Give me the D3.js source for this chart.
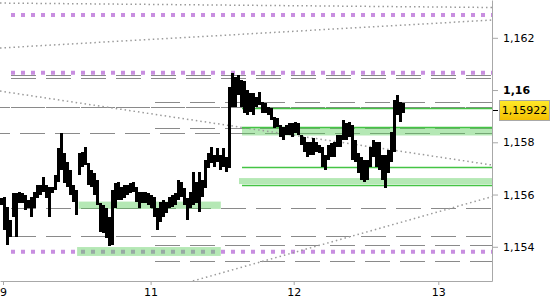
<!DOCTYPE html>
<html>
<head>
<meta charset="utf-8">
<script src="https://cdn.jsdelivr.net/npm/d3@7"></script>
<style>
  body { margin: 0; background: #fff; }
  svg { display: block; font-family: "DejaVu Sans", sans-serif; }
</style>
</head>
<body>
<svg id="chart" width="550" height="300"></svg>
<script>
// bar index 0..134, one bar per column
const barHigh = [1.15587,1.15591,1.15552,1.15503,1.15606,1.15606,1.15610,1.15606,1.15598,1.15579,
  1.15591,1.15610,1.15637,1.15637,1.15667,1.15637,1.15629,1.15629,1.15675,1.15778,
  1.15836,1.15759,1.15725,1.15694,1.15637,1.15617,1.15759,1.15763,1.15782,1.15721,
  1.15694,1.15682,1.15656,1.15568,1.15560,1.15549,1.15514,1.15617,1.15644,1.15648,
  1.15629,1.15637,1.15637,1.15644,1.15648,1.15629,1.15610,1.15610,1.15610,1.15606,
  1.15598,1.15591,1.15549,1.15571,1.15579,1.15571,1.15591,1.15598,1.15606,1.15656,
  1.15648,1.15625,1.15587,1.15610,1.15686,1.15648,1.15686,1.15656,1.15732,1.15759,
  1.15782,1.15751,1.15778,1.15751,1.15778,1.15744,1.16012,1.16065,1.16050,1.16058,
  1.16038,1.16035,1.16000,1.15989,1.15989,1.15973,1.15993,1.15954,1.15950,1.15935,
  1.15931,1.15897,1.15893,1.15866,1.15859,1.15866,1.15874,1.15874,1.15878,1.15874,
  1.15828,1.15820,1.15801,1.15801,1.15816,1.15801,1.15790,1.15782,1.15751,1.15790,
  1.15797,1.15801,1.15828,1.15828,1.15885,1.15874,1.15878,1.15866,1.15809,1.15759,
  1.15744,1.15732,1.15732,1.15782,1.15809,1.15801,1.15801,1.15751,1.15751,1.15771,
  1.15839,1.15962,1.15981,1.15954,1.15950];
const barLow = [1.15560,1.15464,1.15407,1.15438,1.15514,1.15438,1.15568,1.15568,1.15541,1.15549,
  1.15514,1.15549,1.15587,1.15598,1.15610,1.15587,1.15514,1.15606,1.15617,1.15648,
  1.15694,1.15644,1.15629,1.15598,1.15571,1.15522,1.15675,1.15705,1.15713,1.15637,
  1.15629,1.15598,1.15560,1.15457,1.15453,1.15434,1.15403,1.15407,1.15549,1.15579,
  1.15579,1.15587,1.15598,1.15606,1.15610,1.15571,1.15549,1.15568,1.15568,1.15560,
  1.15549,1.15514,1.15464,1.15495,1.15514,1.15529,1.15549,1.15552,1.15560,1.15579,
  1.15591,1.15560,1.15503,1.15549,1.15560,1.15568,1.15533,1.15591,1.15625,1.15702,
  1.15721,1.15705,1.15725,1.15694,1.15705,1.15686,1.15702,1.15935,1.15935,1.15981,
  1.15935,1.15912,1.15904,1.15916,1.15904,1.15935,1.15943,1.15912,1.15912,1.15904,
  1.15885,1.15855,1.15859,1.15820,1.15809,1.15828,1.15828,1.15820,1.15836,1.15828,
  1.15790,1.15763,1.15744,1.15751,1.15751,1.15763,1.15759,1.15705,1.15694,1.15732,
  1.15744,1.15744,1.15782,1.15782,1.15809,1.15809,1.15820,1.15732,1.15725,1.15682,
  1.15656,1.15648,1.15656,1.15705,1.15744,1.15705,1.15694,1.15656,1.15625,1.15682,
  1.15725,1.15763,1.15904,1.15878,1.15912];
const lastPrice = 1.15922;

const dayTicks = [0.5, 49.7, 97.4, 145.6];
const dayLabels = ["9", "11", "12", "13"];
const priceTicks = [1.154, 1.156, 1.158, 1.16, 1.162];

// levels: [price, start bar]
const purpleLevels = [[1.16287, 3.17], [1.16066, 3.17], [1.15381, 3.17]];
const dashedLevels = [[1.16057, 3.17], [1.16045, 3.17], [1.15547, 3.17], [1.15441, 3.17],
  [1.15953, 51.17], [1.15854, 51.17], [1.15407, 51.17], [1.15346, 51.17]];
const fullLevels = [1.15934, 1.15835];
const greenLevels = [1.15930, 1.15860, 1.15707, 1.15635];
// zones: [from bar, to bar, low, high]
const greenZones = [[80.17, 163.5, 1.15826, 1.15856], [79.17, 163.5, 1.15640, 1.15663],
  [25.7, 73.1, 1.15545, 1.15573], [25.2, 73.1, 1.15365, 1.15399]];
// trend lines: [bar0, price0, bar1, price1]
const trendLines = [[-0.5, 1.16333, 163.5, 1.16316], [-0.5, 1.16161, 163.5, 1.16268],
  [-0.5, 1.15996, 163.5, 1.15713], [63.8, 1.15269, 163.5, 1.15592]];

const W = 492, H = 281;
const svg = d3.select("#chart");
const x = d3.scaleLinear().domain([-0.5, 163.5]).range([0, W]);
const y = d3.scaleLinear().domain([1.15269, 1.163447]).range([H, 0]);
const defs = svg.append("defs");

defs.append("clipPath").attr("id", "clip")
  .append("rect").attr("width", W).attr("height", H);
const plot = svg.append("g").attr("clip-path", "url(#clip)");

// purple dotted levels
plot.selectAll(".purple").data(purpleLevels).enter().append("line")
  .attr("x1", d => x(d[1])).attr("x2", W)
  .attr("y1", d => y(d[0])).attr("y2", d => y(d[0]))
  .attr("stroke", "#c88ee0").attr("stroke-width", 4).attr("stroke-dasharray", "4,6");

// gray dashed levels
plot.selectAll(".dash").data(dashedLevels).enter().append("line")
  .attr("x1", d => x(d[1])).attr("x2", W)
  .attr("y1", d => Math.round(y(d[0])) + 0.5).attr("y2", d => Math.round(y(d[0])) + 0.5)
  .attr("stroke", "#8a8a8a").attr("stroke-dasharray", "25,10");

plot.selectAll(".full").data(fullLevels).enter().append("line")
  .attr("x1", 0).attr("x2", W)
  .attr("y1", d => Math.round(y(d)) + 0.5).attr("y2", d => Math.round(y(d)) + 0.5)
  .attr("stroke", "#8a8a8a")
  .attr("stroke-dasharray", (d, i) => i === 0 ? "34,1" : "25,10")
  .attr("stroke-dashoffset", (d, i) => i === 0 ? 24 : 15);

// green zones
plot.selectAll(".zone").data(greenZones).enter().append("rect")
  .attr("x", d => x(d[0])).attr("width", d => x(d[1]) - x(d[0]))
  .attr("y", d => y(d[3])).attr("height", d => y(d[2]) - y(d[3]))
  .attr("fill", "rgb(90,205,90)").attr("fill-opacity", 0.45);

// dotted trend lines
plot.selectAll(".trend").data(trendLines).enter().append("line")
  .attr("x1", d => x(d[0])).attr("y1", d => y(d[1]))
  .attr("x2", d => x(d[2])).attr("y2", d => y(d[3]))
  .attr("stroke", "#9a9a9a").attr("stroke-width", 1.5).attr("stroke-dasharray", "1.5,3");

// green levels
plot.selectAll(".green").data(greenLevels).enter().append("line")
  .attr("x1", x(80.17)).attr("x2", W)
  .attr("y1", d => Math.round(y(d)) + 0.5).attr("y2", d => Math.round(y(d)) + 0.5)
  .attr("stroke", "#44c444").attr("stroke-width", 1.4);

// price bars
plot.selectAll(".bar").data(barHigh).enter().append("rect")
  .attr("x", (d, i) => x(i) - 1.5).attr("width", 3)
  .attr("y", d => y(d))
  .attr("height", (d, i) => Math.max(1, y(barLow[i]) - y(d)))
  .attr("fill", "#000").attr("shape-rendering", "crispEdges");

// axes
const locale = d3.formatLocale({decimal: ",", thousands: ".", grouping: [3], currency: ["", ""]});
const fmt = locale.format(".3~f");

const yAxis = svg.append("g").attr("transform", `translate(${W},0)`)
  .call(d3.axisRight(y).tickValues(priceTicks).tickFormat(fmt).tickSize(6).tickSizeOuter(0).tickPadding(5));
const xAxis = svg.append("g").attr("transform", `translate(0,${H})`)
  .call(d3.axisBottom(x).tickValues(dayTicks).tickFormat((d, i) => dayLabels[i]).tickSize(4).tickSizeOuter(0).tickPadding(3));

[yAxis, xAxis].forEach(a => {
  a.select(".domain").attr("stroke", "#a8a8a8");
  a.selectAll(".tick line").attr("stroke", "#a8a8a8");
  a.selectAll("text").attr("fill", "#000").attr("font-size", 11)
    .attr("font-family", "DejaVu Sans, sans-serif");
});
yAxis.selectAll(".tick text").filter(d => d === 1.16).attr("font-weight", "bold");

// current price marker
const py = y(lastPrice);
svg.append("line").attr("x1", W + 1).attr("x2", W + 6)
  .attr("y1", Math.round(py) + 0.5).attr("y2", Math.round(py) + 0.5).attr("stroke", "#000");
const grad = defs.append("linearGradient").attr("id", "tag")
  .attr("x1", 0).attr("y1", 0).attr("x2", 0).attr("y2", 1);
grad.append("stop").attr("offset", 0).attr("stop-color", "#ffea2a");
grad.append("stop").attr("offset", 1).attr("stop-color", "#f3bf00");
svg.append("rect").attr("x", 499.5).attr("y", Math.round(py) - 9.5)
  .attr("width", 50).attr("height", 20)
  .attr("fill", "url(#tag)").attr("stroke", "#a8a8a8");
svg.append("text").attr("x", 524.5).attr("y", py + 0.5)
  .attr("text-anchor", "middle").attr("dominant-baseline", "central")
  .attr("font-size", 11).attr("fill", "#000")
  .text(locale.format(".5f")(lastPrice));
</script>
</body>
</html>
